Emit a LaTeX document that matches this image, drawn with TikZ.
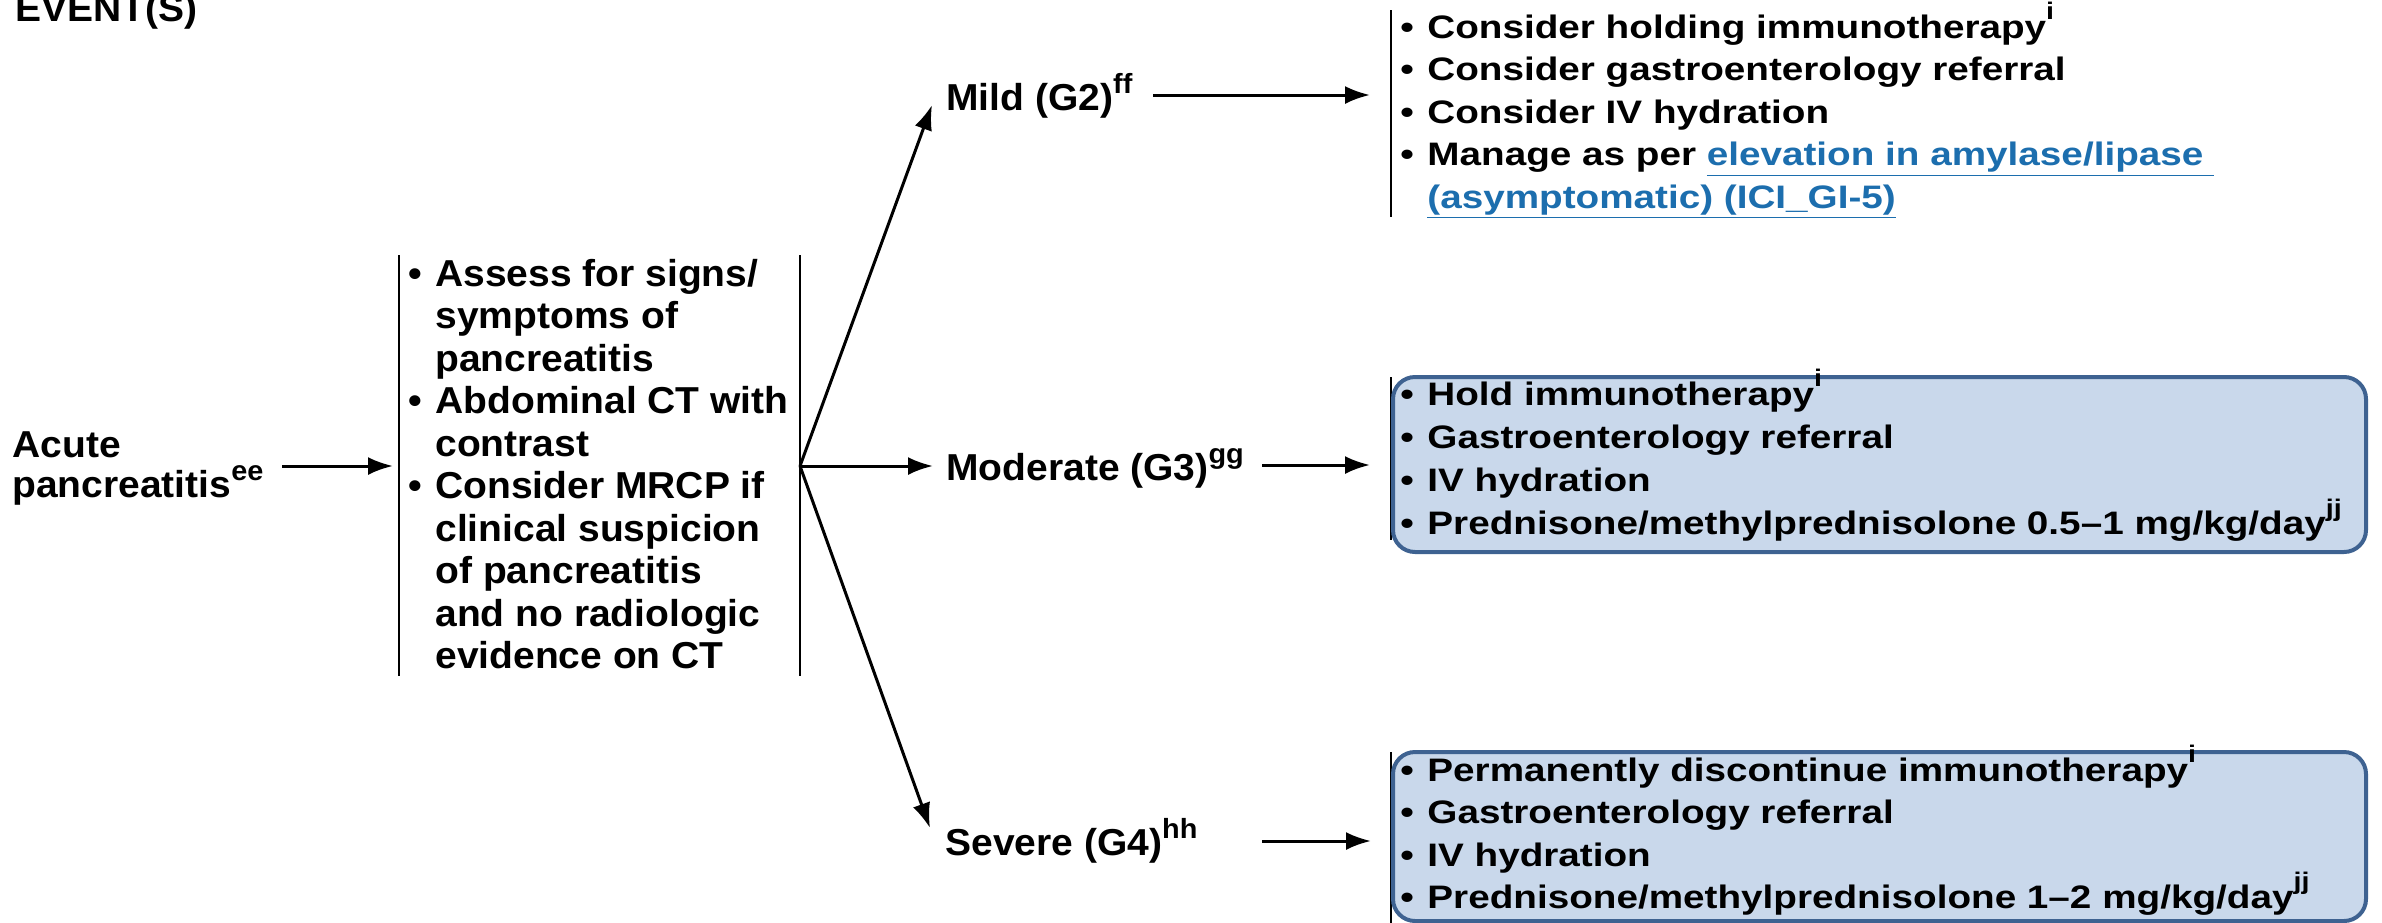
\documentclass[tikz,border=0pt]{standalone}
\usepackage{fontspec}
\usepackage{graphicx}
\usetikzlibrary{arrows.meta}
\setmainfont{Liberation Sans}
\newfontfamily\mainfnt{Liberation Sans}[FakeStretch=1.04]
\newfontfamily\boxfnt{Liberation Sans}[FakeStretch=1.19]
\definecolor{linkblue}{RGB}{28,110,174}
\definecolor{boxfill}{RGB}{201,216,235}
\definecolor{boxline}{RGB}{62,98,145}

% text styles
\newcommand\lfont{\mainfnt\bfseries\fontsize{18.75pt}{21.25pt}\selectfont}
\newcommand\rfont{\boxfnt\bfseries\fontsize{16.25pt}{21.5pt}\selectfont}
\newcommand\supr[1]{\raisebox{0.45em}{\scalebox{0.74}{#1}}}
\newcommand\suprb[1]{\raisebox{0.58em}{\scalebox{0.74}{#1}}}
\newlength\bulw
\newcommand\bulletline[1]{\hbox{\makebox[\bulw][l]{•}#1}}
\newcommand\contline[1]{\hbox{\hspace*{\bulw}#1}}
\newcommand\stack[1]{\vtop{\lineskiplimit=-\maxdimen\lineskip=0pt #1}}

\tikzset{
  lbl/.style={anchor=base west, inner sep=0pt, font=\lfont},
  lst/.style={anchor=base west, inner sep=0pt},
  bar/.style={line width=1.4pt, black},
  arr/.style={line width=1.5pt, -{Latex[length=12.5pt,width=9pt]}},
  rbox/.style={fill=boxfill, draw=boxline, line width=2pt, rounded corners=11pt},
}

\begin{document}
\begin{tikzpicture}[x=0.5pt,y=-0.5pt]
\useasboundingbox (0,0) rectangle (2382,922);
\fill[white] (0,0) rectangle (2382,922);

% heading
\node[lbl] (events) at (15,21) {EVENT(S)};

% event
\node[lst] (acute) at (12,457) {\lfont\setlength\bulw{13.5pt}\stack{%
  \baselineskip=20pt
  \hbox{Acute}
  \hbox{pancreatitis\supr{ee}}}};

% workup column
\coordinate (b1top) at (399,255);   \coordinate (b1bot) at (399,676);
\coordinate (b2top) at (800,255);   \coordinate (b2bot) at (800,676);
\draw[bar] (b1top) -- (b1bot);
\draw[bar] (b2top) -- (b2bot);
\node[lst] (assess) at (408,286) {\lfont\setlength\bulw{13.5pt}\stack{%
  \baselineskip=21.25pt
  \bulletline{Assess for signs/}
  \contline{symptoms of}
  \contline{pancreatitis}
  \bulletline{Abdominal CT with}
  \contline{contrast}
  \bulletline{Consider MRCP if}
  \contline{clinical suspicion}
  \contline{of pancreatitis}
  \contline{and no radiologic}
  \contline{evidence on CT}}};

% grades
\node[lbl] (mild) at (946,110) {Mild (G2)\supr{ff}};
\node[lbl] (moderate) at (946,480) {Moderate (G3)\supr{gg}};
\node[lbl] (severe) at (945,855) {Severe (G4)\supr{hh}};

% connectors
\coordinate (acuteOut) at (282,466);
\coordinate (assessIn) at (393,466);
\coordinate (split) at (800,466);
\coordinate (mildIn) at (932,105);
\coordinate (modIn) at (933,466);
\coordinate (sevIn) at (930,828);
\coordinate (mildOut) at (1153,95);   \coordinate (mildMgmt) at (1370,95);
\coordinate (modOut) at (1262,465);   \coordinate (modMgmt) at (1370,465);
\coordinate (sevOut) at (1262,841);   \coordinate (sevMgmt) at (1371,841);
\draw[arr] (acuteOut) -- (assessIn);
\draw[arr] (split) -- (mildIn);
\draw[arr] (split) -- (modIn);
\draw[arr] (split) -- (sevIn);
\draw[arr] (mildOut) -- (mildMgmt);
\draw[arr] (modOut) -- (modMgmt);
\draw[arr] (sevOut) -- (sevMgmt);

% management: mild
\draw[bar] (1391,10) -- (1391,217);
\node[lst] (mildlist) at (1400,38) {\rfont\setlength\bulw{13.5pt}\stack{%
  \baselineskip=21.25pt
  \bulletline{Consider holding immunotherapy\suprb{i}}
  \bulletline{Consider gastroenterology referral}
  \bulletline{Consider IV hydration}
  \bulletline{Manage as per {\color{linkblue}\underline{elevation in amylase/lipase\ }}}
  \contline{{\color{linkblue}\underline{(asymptomatic) (ICI\_GI-5)}}}}};

% management: moderate
\draw[bar] (1391,377) -- (1391,540);
\path[rbox] (1393,377) rectangle (2366,552);
\node[lst] (modlist) at (1400,405) {\rfont\setlength\bulw{13.5pt}\stack{%
  \baselineskip=21.65pt
  \bulletline{Hold immunotherapy\suprb{i}}
  \bulletline{Gastroenterology referral}
  \bulletline{IV hydration}
  \bulletline{Prednisone/methylprednisolone 0.5–1 mg/kg/day\suprb{jj}}}};

% management: severe
\draw[bar] (1391,752) -- (1391,930);
\path[rbox] (1393,752) rectangle (2366,921);
\node[lst] (sevlist) at (1400,781) {\rfont\setlength\bulw{13.5pt}\stack{%
  \baselineskip=21.25pt
  \bulletline{Permanently discontinue immunotherapy\suprb{i}}
  \bulletline{Gastroenterology referral}
  \bulletline{IV hydration}
  \bulletline{Prednisone/methylprednisolone 1–2 mg/kg/day\suprb{jj}}}};
\end{tikzpicture}
\end{document}
